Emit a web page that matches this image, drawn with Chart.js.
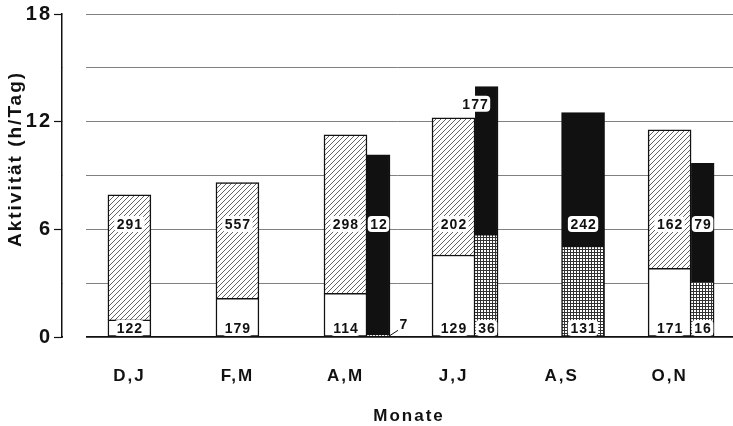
<!DOCTYPE html>
<html>
<head>
<meta charset="utf-8">
<script src="https://cdn.jsdelivr.net/npm/chart.js@4.4.0/dist/chart.umd.min.js"></script>
<style>
  html, body { margin: 0; padding: 0; background: #fff; }
  #wrap { width: 733px; height: 426px; }
</style>
</head>
<body>
<div id="wrap"><canvas id="activityChart"></canvas></div>
<script>
// Monatspaare und Aktivitaet in h/Tag (Segmente, gestapelt)
const categories = ['D,J', 'F,M', 'A,M', 'J,J', 'A,S', 'O,N'];
const whiteHours = [0.95, 2.16, 2.43, 4.57, null, 3.83];
const hatchHours = [6.97, 6.44, 8.83, 7.65, null, 7.71];
const gridHours  = [null, null, 0.15, 5.72, 5.07, 3.12];
const blackHours = [null, null, 10.0, 8.23, 7.43, 6.56];
// Stichprobengroessen in den Balken
const whiteN = [122, 179, 114, 129, null, 171];
const hatchN = [291, 557, 298, 202, null, 162];
const gridN  = [null, null, 7, 36, 131, 16];
const blackN = [null, null, 12, 177, 242, 79];
const yTickLabels = [0, 6, 12, 18];
const yTitle = 'Aktivität (h/Tag)';
const xTitle = 'Monate';

// layout
const LEFT_W = 43, RIGHT_W = 23, UNIT_PX = 108, AXIS_GAP = 24;
const X_MIN = -0.624, X_MAX = 5.587;
const FONT = '"Liberation Sans", Arial, sans-serif';

var canvas = document.getElementById('activityChart');
var ctx2d = canvas.getContext('2d');

function makePattern(size, draw) {
    var c = document.createElement('canvas');
    c.width = size; c.height = size;
    var g = c.getContext('2d');
    g.fillStyle = '#fff';
    g.fillRect(0, 0, size, size);
    draw(g, size);
    return ctx2d.createPattern(c, 'repeat');
}

var hatchFill = makePattern(5, function (g, s) {
    g.strokeStyle = '#3a3a3a';
    g.lineWidth = 0.8;
    g.beginPath();
    g.moveTo(0, s); g.lineTo(s, 0);
    g.moveTo(-1, 1); g.lineTo(1, -1);
    g.moveTo(s - 1, s + 1); g.lineTo(s + 1, s - 1);
    g.stroke();
});
var gridFill = makePattern(3, function (g, s) {
    g.fillStyle = '#333';
    g.fillRect(0, 0, s, 1);
    g.fillRect(0, 0, 1, s);
});

// build points: left stack at the category, right stack beside it
function points(values, counts, pick, shift) {
    let pts = [], ns = [];
    values.forEach(function (v, i) {
        if (v == null || !pick(i)) return;
        pts.push({ x: i + shift, y: v });
        ns.push(counts[i]);
    });
    return { pts: pts, ns: ns };
}
const hasLeft = i => whiteHours[i] != null;
const narrowShift = (LEFT_W / 2 + RIGHT_W / 2) / UNIT_PX;
const wideShift = (LEFT_W / 2) / UNIT_PX;

function barSet(values, counts, pick, shift, fill, stack, segment, width) {
    let p = points(values, counts, pick, shift);
    return {
        data: p.pts,
        counts: p.ns,
        segment: segment,
        stack: stack,
        grouped: false,
        barThickness: width,
        backgroundColor: fill,
        borderColor: '#111',
        borderWidth: {
            top: 1.5,
            bottom: segment === 'top' ? 0 : 1.5,
            left: stack === 'R' ? 0 : 1.5,
            right: 1.5
        },
        borderSkipped: false
    };
}

var datasets = [
    barSet(whiteHours, whiteN, hasLeft, 0, '#fff', 'L', 'bottom', LEFT_W),
    barSet(hatchHours, hatchN, hasLeft, 0, hatchFill, 'L', 'top', LEFT_W),
    barSet(gridHours, gridN, hasLeft, narrowShift, gridFill, 'R', 'bottom', RIGHT_W),
    barSet(blackHours, blackN, hasLeft, narrowShift, '#111', 'R', 'top', RIGHT_W),
    barSet(gridHours, gridN, i => !hasLeft(i), wideShift, gridFill, 'W', 'bottom', LEFT_W),
    barSet(blackHours, blackN, i => !hasLeft(i), wideShift, '#111', 'W', 'top', LEFT_W)
];

var countLabels = {
    id: 'countLabels',
    beforeDraw: function (chart) {
        // the printed lettering is spaced a little wider
        chart.ctx.letterSpacing = '2px';
    },
    beforeDatasetsDraw: function (chart) {
        const a = chart.chartArea, c = chart.ctx;
        c.letterSpacing = '0px';
        c.save();
        // gap between the y axis line and the start of the grid lines
        c.fillStyle = '#fff';
        c.fillRect(a.left + 1, a.top - 3, AXIS_GAP - 1, a.bottom - a.top + 6);
        // axis titles
        c.fillStyle = '#111';
        c.letterSpacing = '2px';
        c.textAlign = 'center';
        c.textBaseline = 'middle';
        c.font = 'bold 17px ' + FONT;
        c.fillText(xTitle, 409, 416);
        c.translate(16, 159);
        c.rotate(-Math.PI / 2);
        c.font = 'bold 19px ' + FONT;
        c.fillText(yTitle, 0, 0);
        c.restore();
    },
    afterDatasetsDraw: function (chart) {
        const c = chart.ctx, yScale = chart.scales.y;
        c.save();
        c.font = 'bold 14px ' + FONT;
        c.letterSpacing = '1px';
        c.textAlign = 'center';
        c.textBaseline = 'middle';
        chart.data.datasets.forEach(function (ds, d) {
            chart.getDatasetMeta(d).data.forEach(function (bar, j) {
                const n = ds.counts[j];
                if (n == null) return;
                const text = String(n);
                const topVal = yScale.getValueForPixel(bar.y);
                const baseVal = yScale.getValueForPixel(bar.base);
                const w = c.measureText(text).width;
                let x = bar.x, y;
                if (ds.segment === 'bottom') {
                    if (topVal - baseVal < 0.6) {
                        // too small: label beside the bar with a leader line
                        const tx = bar.x + bar.width / 2 + 14;
                        y = yScale.getPixelForValue(0.65);
                        c.strokeStyle = '#111';
                        c.lineWidth = 1;
                        c.beginPath();
                        c.moveTo(bar.x + bar.width / 2, bar.base - 1);
                        c.lineTo(tx - 6, y + 5);
                        c.stroke();
                        c.fillStyle = '#111';
                        c.fillText(text, tx, y);
                        return;
                    }
                    y = yScale.getPixelForValue(0.5);
                } else if (baseVal > 5.5) {
                    // label near the top, pushed left when wider than the bar
                    y = yScale.getPixelForValue(topVal - 0.95);
                    if (w + 4 > bar.width) x = bar.x - bar.width / 2;
                } else {
                    y = yScale.getPixelForValue(6.3);
                }
                c.fillStyle = '#fff';
                c.beginPath();
                c.roundRect(x - w / 2 - 2, y - 8, w + 4, 16, 4);
                c.fill();
                c.fillStyle = '#111';
                c.fillText(text, x + 0.5, y + 1);
            });
        });
        c.restore();
    }
};

new Chart(ctx2d, {
    type: 'bar',
    data: { datasets: datasets },
    options: {
        responsive: true,
        maintainAspectRatio: false,
        animation: false,
        layout: { padding: { top: 14, right: 0, bottom: 0, left: 0 } },
        plugins: {
            legend: { display: false },
            tooltip: { enabled: false }
        },
        scales: {
            x: {
                type: 'linear',
                offset: false,
                min: X_MIN,
                max: X_MAX,
                grid: { display: false },
                border: { display: true, color: '#111', width: 1.5 },
                ticks: {
                    stepSize: 1,
                    includeBounds: false,
                    autoSkip: false,
                    maxRotation: 0,
                    padding: 21,
                    color: '#111',
                    font: { family: FONT, size: 17, weight: 'bold' },
                    callback: function (v) {
                        return Number.isInteger(v) && categories[v] ? categories[v] : '';
                    }
                },
                afterFit: function (s) { s.height = 89; }
            },
            y: {
                stacked: true,
                min: 0,
                max: 18,
                ticks: {
                    stepSize: 3,
                    padding: 2,
                    color: '#111',
                    font: { family: FONT, size: 20, weight: 'bold' },
                    callback: function (v) { return yTickLabels.includes(v) ? v : ''; }
                },
                grid: {
                    color: '#808080',
                    lineWidth: 1,
                    tickLength: 8,
                    tickWidth: 1.2,
                    tickColor: function (c) {
                        return yTickLabels.includes(c.tick.value) ? '#111' : 'rgba(0,0,0,0)';
                    }
                },
                border: { color: '#111', width: 1.5 },
                afterFit: function (s) { s.width = 62; }
            }
        }
    },
    plugins: [countLabels]
});
</script>
</body>
</html>
